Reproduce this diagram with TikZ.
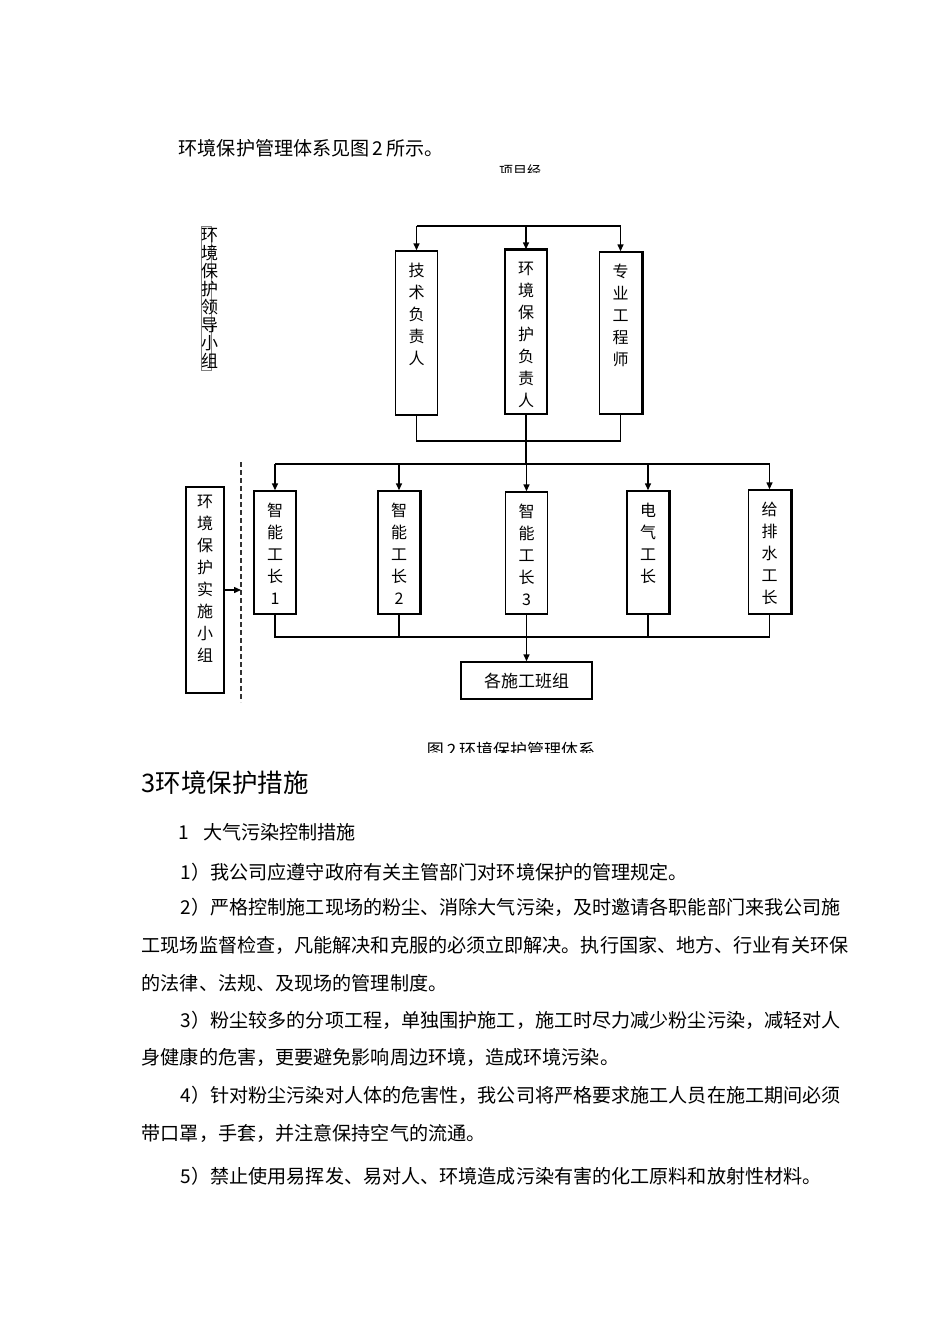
\documentclass[tikz,border=0pt]{standalone}
\usepackage{fontspec}
\setmainfont{Noto Sans CJK SC}
\usetikzlibrary{arrows.meta,positioning}

\tikzset{
  box/.style={draw, line width=1.4pt, inner sep=0pt, minimum width=42pt},
  vlabel/.style={anchor=north, yshift=-12pt, align=center, inner sep=0pt,
    font=\fontsize{16}{22}\selectfont},
  arr/.style={-{Triangle[length=7pt,width=6pt]}},
  txt/.style={anchor=west, inner sep=0pt, font=\fontsize{19.1}{19.1}\selectfont},
  shade/.style={line width=3pt},
}

\begin{document}
\begin{tikzpicture}[x=1pt, y=-1pt, line width=1.4pt, line cap=butt]
  \useasboundingbox (0,0) rectangle (950,1344);

  % text above the chart
  \node[txt] (intro) at (178,148) {环境保护管理体系见图\,2\,所示。};
  \begin{scope}
    \clip (400,150) rectangle (650,172);
    \node[inner sep=0pt, font=\fontsize{14}{14}\selectfont] (pm) at (520,171) {项目经};
  \end{scope}

  % leading group
  \node[draw=gray, line width=0.8pt, text width=10pt, inner xsep=0pt, inner ysep=2pt,
    align=left, font=\fontsize{17}{17.9}\selectfont] (lead) at (206,298.5)
    {环\\境\\保\\护\\领\\导\\小\\组};

  \node[box, minimum height=164pt, label={[vlabel]north:技\\术\\负\\责\\人}] (tech) at (416.5,333) {};
  \node[box, minimum height=164pt, label={[vlabel]north:环\\境\\保\\护\\负\\责\\人}] (envr) at (526,332) {};
  \node[box, minimum height=162pt, label={[vlabel]north:专\\业\\工\\程\\师}] (prof) at (620.5,333) {};
  \draw[shade] (prof.north east) -- (prof.south east);
  \draw[line width=2.4pt] (envr.north west) -- (envr.north east);

  \coordinate (busA) at (526,226);
  \coordinate (busB) at (526,441);
  \coordinate (busC) at (526,464);
  \coordinate (busD) at (526,637);

  \draw (tech.north |- busA) -- (prof.north |- busA);
  \foreach \n in {tech,envr,prof}
    \draw[arr] (\n.north |- busA) -- (\n.north);
  \draw (tech.south) -- (tech.south |- busB) -- (prof.south |- busB) -- (prof.south);
  \draw (envr.south) -- (busB) -- (busC);

  % working group
  \node[box, minimum width=38pt, minimum height=206pt,
    label={[vlabel, yshift=4pt]north:环\\境\\保\\护\\实\\施\\小\\组}] (impl) at (205,590) {};
  \coordinate (dtop) at (241,462);
  \coordinate (dbot) at (241,702);
  \draw[dash pattern=on 5pt off 3pt, line width=1.8pt, black!80] (dtop) -- (dbot);
  \draw[arr] (impl.east) -- (impl.east -| dtop);

  \node[box, minimum height=123pt, label={[vlabel]north:智\\能\\工\\长\\1}] (fore1) at (275,552.5) {};
  \node[box, minimum height=123pt, label={[vlabel]north:智\\能\\工\\长\\2}] (fore2) at (399,552.5) {};
  \node[box, minimum height=122pt, label={[vlabel]north:智\\能\\工\\长\\3}] (fore3) at (526.5,553) {};
  \node[box, minimum height=123pt, label={[vlabel]north:电\\气\\工\\长}] (elec) at (648,552.5) {};
  \node[box, minimum height=124pt, label={[vlabel]north:给\\排\\水\\工\\长}] (water) at (769.5,552) {};
  \foreach \n in {fore2,elec,water}
    \draw[shade] (\n.north east) -- (\n.south east);

  \draw (fore1.north |- busC) -- (water.north |- busC);
  \foreach \n in {fore1,fore2,fore3,elec,water}
    \draw[arr] (\n.north |- busC) -- (\n.north);
  \draw (fore1.south) -- (fore1.south |- busD) -- (water.south |- busD) -- (water.south);
  \foreach \n in {fore2,fore3,elec}
    \draw (\n.south) -- (\n.south |- busD);

  \node[box, minimum width=131pt, minimum height=37pt,
    font=\fontsize{17}{17}\selectfont] (team) at (526.5,680.5) {各施工班组};
  \draw[arr] (team.north |- busD) -- (team.north);

  \begin{scope}
    \clip (380,730) rectangle (650,752);
    \node[inner sep=0pt, font=\fontsize{17}{17}\selectfont] (caption) at (511,750) {图\,2\,环境保护管理体系};
  \end{scope}

  % text below the chart
  \node[anchor=west, inner sep=0pt, font=\fontsize{25.5}{25.5}\selectfont] (heading) at (141,783) {3环境保护措施};
  \node[txt] (sub1) at (178,832) {1\hspace{14pt}大气污染控制措施};
  \node[txt] (p1) at (180,872) {1）我公司应遵守政府有关主管部门对环境保护的管理规定。};
  \node[txt] (p2a) at (180,907) {2）严格控制施工现场的粉尘、消除大气污染，及时邀请各职能部门来我公司施};
  \node[txt] (p2b) at (141,945) {工现场监督检查，凡能解决和克服的必须立即解决。执行国家、地方、行业有关环保};
  \node[txt] (p2c) at (141,983) {的法律、法规、及现场的管理制度。};
  \node[txt] (p3a) at (180,1020) {3）粉尘较多的分项工程，单独围护施工，施工时尽力减少粉尘污染，减轻对人};
  \node[txt] (p3b) at (141,1057) {身健康的危害，更要避免影响周边环境，造成环境污染。};
  \node[txt] (p4a) at (180,1095) {4）针对粉尘污染对人体的危害性，我公司将严格要求施工人员在施工期间必须};
  \node[txt] (p4b) at (141,1133) {带口罩，手套，并注意保持空气的流通。};
  \node[txt] (p5) at (180,1176) {5）禁止使用易挥发、易对人、环境造成污染有害的化工原料和放射性材料。};
\end{tikzpicture}
\end{document}
